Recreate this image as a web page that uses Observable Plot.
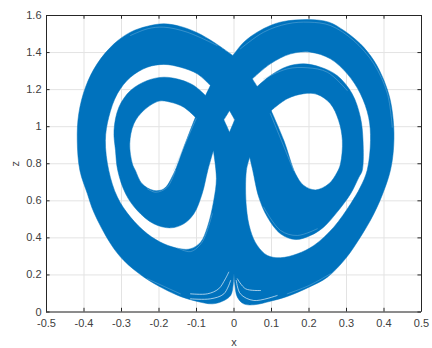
<!DOCTYPE html>
<html>
<head>
<meta charset="utf-8">
<script src="https://cdn.jsdelivr.net/npm/d3@7"></script>
<script src="https://cdn.jsdelivr.net/npm/@observablehq/plot@0.6"></script>
<style>html,body{margin:0;padding:0;background:#fff}svg{display:block}</style>
</head>
<body>
<div id="chart"></div>
<script>
const xTicks = [-0.5,-0.4,-0.3,-0.2,-0.1,0,0.1,0.2,0.3,0.4,0.5];
const zTicks = [0,0.2,0.4,0.6,0.8,1,1.2,1.4,1.6];

// Repeated vertices keep the sharp corners of the band ends, tips and notches.
const outline = [[-.003,1.384],[-.003,1.384],[.026,1.456],[.062,1.51],[.097,1.546],[.133,1.568],[.2,1.578],[.253,1.564],[.293,1.519],[.337,1.447],[.373,1.357],[.4,1.249],[.417,1.141],[.426,.997],[.425,.872],[.417,.764],[.4,.656],[.373,.53],[.337,.404],[.297,.287],[.249,.188],[.2,.134],[.142,.084],[.097,.058],[.053,.039],[.026,.044],[.009,.08],[.002,.152],[0,.21],[0,.21],[-.002,.152],[-.009,.089],[-.031,.058],[-.058,.044],[-.098,.057],[-.143,.084],[-.187,.125],[-.24,.188],[-.294,.278],[-.329,.368],[-.374,.539],[-.391,.638],[-.411,.764],[-.418,.925],[-.414,1.07],[-.396,1.213],[-.365,1.339],[-.32,1.447],[-.276,1.51],[-.231,1.542],[-.187,1.555],[-.143,1.541],[-.098,1.507],[-.054,1.456],[-.003,1.384],[-.003,1.384]];

const leftChannel = [[-.063,1.222],[-.063,1.222],[-.098,1.285],[-.143,1.321],[-.187,1.336],[-.231,1.321],[-.276,1.267],[-.311,1.178],[-.334,1.051],[-.343,.925],[-.334,.764],[-.311,.62],[-.276,.512],[-.231,.422],[-.187,.368],[-.143,.341],[-.116,.341],[-.089,.377],[-.071,.458],[-.054,.602],[-.047,.72],[-.055,.872],[-.055,.872],[-.07,.764],[-.085,.638],[-.107,.53],[-.134,.476],[-.169,.454],[-.214,.476],[-.258,.548],[-.289,.638],[-.31,.764],[-.316,.872],[-.32,.98],[-.307,1.105],[-.276,1.195],[-.231,1.249],[-.187,1.267],[-.143,1.253],[-.107,1.222],[-.076,1.168],[-.076,1.168],[-.063,1.222],[-.063,1.222]];

const leftEye = [[-.103,1.051],[-.103,1.051],[-.134,1.105],[-.169,1.132],[-.2,1.138],[-.241,1.087],[-.267,1.016],[-.278,.908],[-.271,.8],[-.263,.764],[-.245,.692],[-.214,.656],[-.187,.665],[-.161,.746],[-.134,.889],[-.103,1.051],[-.103,1.051]];

const rightChannel = [[.049,1.258],[.049,1.258],[.097,1.339],[.151,1.393],[.204,1.402],[.257,1.366],[.302,1.285],[.337,1.178],[.359,1.051],[.364,.925],[.355,.764],[.337,.674],[.311,.584],[.266,.458],[.213,.359],[.169,.314],[.124,.293],[.089,.305],[.062,.359],[.044,.44],[.033,.566],[.033,.764],[.042,.835],[.042,.835],[.05,.764],[.066,.62],[.089,.512],[.124,.422],[.164,.391],[.204,.413],[.239,.458],[.275,.539],[.311,.638],[.333,.727],[.342,.764],[.344,.925],[.337,1.051],[.315,1.178],[.275,1.276],[.231,1.321],[.186,1.339],[.142,1.325],[.097,1.276],[.062,1.217],[.062,1.217],[.049,1.258],[.049,1.258]];

const rightEye = [[.099,1.087],[.099,1.087],[.142,1.151],[.186,1.178],[.222,1.174],[.257,1.124],[.279,1.033],[.289,.925],[.284,.8],[.275,.754],[.253,.692],[.217,.659],[.186,.683],[.164,.746],[.133,.925],[.099,1.087],[.099,1.087]];

const diamond = [[-.012,1.087],[-.012,1.087],[-.027,1.037],[-.027,1.037],[-.012,.97],[-.012,.97],[.002,1.037],[.002,1.037],[-.012,1.087],[-.012,1.087]];

const faintStreaks = [
  [[.079,.566],[.124,.44],[.169,.413],[.222,.449]],
  [[-.151,.346],[-.116,.326],[-.085,.377],[-.058,.53]],
  [[-.231,.665],[-.209,.646],[-.178,.673],[-.156,.764]],
  [[-.276,1.492],[-.231,1.528],[-.187,1.537],[-.125,1.51],[-.045,1.438]],
  [[.017,1.42],[.079,1.51],[.142,1.555],[.2,1.564],[.257,1.546],[.319,1.465],[.373,1.339],[.409,1.178],[.422,.997]],
  [[.079,1.258],[.142,1.312],[.195,1.318],[.249,1.294],[.302,1.195]],
  [[-.101,1.043],[-.161,.764]],
  [[.097,1.07],[.159,.764]],
  [[-.231,.179],[-.143,.098]],
  [[.142,.098],[.2,.143],[.257,.206]]
];

const bottomStreaks = [
  [[-.116,.098],[-.071,.098],[-.041,.125],[-.023,.179],[-.014,.215]],
  [[-.116,.071],[-.063,.071],[-.027,.098],[-.009,.17]],
  [[.006,.17],[.017,.098],[.053,.062],[.115,.089]],
  [[.009,.179],[.031,.125],[.071,.116]]
];

const rings = [outline, leftChannel, leftEye, rightChannel, rightEye, diamond];
const gapped = list => list.flatMap(r => [...r, [null, null]]);

const blue = "#0072BD", axisColor = "#262626", textColor = "#404040", gridColor = "#e3e3e3";
const X = d => d[0], Z = d => d[1];
const tickDx = 0.0095, tickDz = 0.02;

const plot = Plot.plot({
  width: 432, height: 348,
  marginLeft: 46, marginRight: 11, marginTop: 15, marginBottom: 36.5,
  x: {domain: [-0.5, 0.5]},
  y: {domain: [0, 1.6]},
  style: {fontFamily: "'Liberation Sans', Arial, sans-serif", fontSize: "11px", background: "#fff", fillRule: "evenodd"},
  marks: [
    Plot.gridX(xTicks, {stroke: gridColor, strokeOpacity: 1}),
    Plot.gridY(zTicks, {stroke: gridColor, strokeOpacity: 1}),
    Plot.line(gapped(rings), {x: X, y: Z, curve: "catmull-rom", fill: blue, stroke: blue, strokeWidth: 0.5}),
    Plot.line(gapped(faintStreaks), {x: X, y: Z, curve: "catmull-rom", stroke: "#9cc8e6", strokeWidth: 0.5, strokeOpacity: 0.7}),
    Plot.line(gapped(bottomStreaks), {x: X, y: Z, curve: "catmull-rom", stroke: "#e8f2f9", strokeWidth: 0.7}),
    Plot.ruleX(xTicks, {y1: 0, y2: tickDz, stroke: axisColor, strokeWidth: 1}),
    Plot.ruleX(xTicks, {y1: 1.6, y2: 1.6 - tickDz, stroke: axisColor, strokeWidth: 1}),
    Plot.ruleY(zTicks, {x1: -0.5, x2: -0.5 + tickDx, stroke: axisColor, strokeWidth: 1}),
    Plot.ruleY(zTicks, {x1: 0.5, x2: 0.5 - tickDx, stroke: axisColor, strokeWidth: 1}),
    Plot.ruleX([-0.5, 0.5], {stroke: axisColor, strokeWidth: 1}),
    Plot.ruleY([0, 1.6], {stroke: axisColor, strokeWidth: 1}),
    Plot.axisX(xTicks, {tickSize: 0, tickPadding: 7, color: textColor, tickFormat: d => String(d), label: null}),
    Plot.axisY(zTicks, {tickSize: 0, tickPadding: 5, color: textColor, tickFormat: d => String(d), label: null}),
    Plot.text(["x"], {x: 0, y: 0, dy: 30, text: d => d, fill: textColor, fontSize: 11, lineAnchor: "middle"}),
    Plot.text(["z"], {x: -0.5, y: 0.8, dx: -31, text: d => d, fill: textColor, fontSize: 11, rotate: -90})
  ]
});
document.getElementById("chart").appendChild(plot);
</script>
</body>
</html>
